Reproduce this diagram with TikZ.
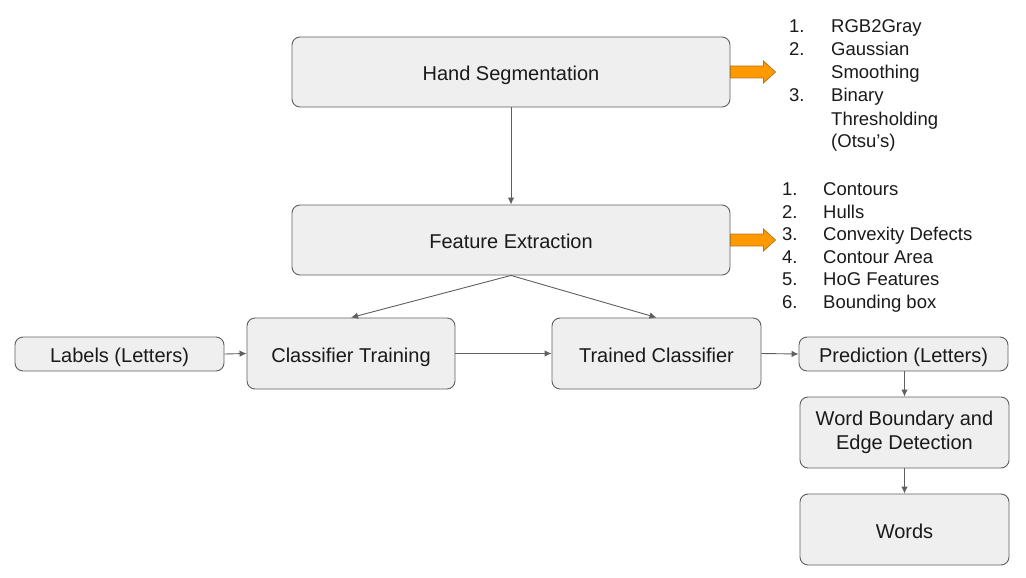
\documentclass[tikz,border=0pt]{standalone}
\usepackage{fontspec}
\setmainfont{Liberation Sans}
\usetikzlibrary{arrows.meta}
\begin{document}
\begin{tikzpicture}[x=1pt,y=-1pt,
  box/.style={draw=boxline, fill=boxfill, rounded corners=8pt, line width=0.9pt,
    inner sep=0pt, align=center, font=\fontsize{20}{24}\selectfont, text=txt},
  one/.style={text height=17pt, text depth=0pt},
  conn/.style={draw=arrowcol, line width=0.9pt, -{Latex[length=7pt,width=6.5pt]}},
  fat/.style={draw=orangeline, fill=orangefill, line width=0.8pt},
  item/.style={anchor=base west, inner sep=0pt, font=\fontsize{18.5}{22}\selectfont, text=txt}
]
\definecolor{boxfill}{HTML}{EFEFEF}
\definecolor{boxline}{HTML}{5F5F5F}
\definecolor{arrowcol}{HTML}{5F5F5F}
\definecolor{orangefill}{HTML}{FF9900}
\definecolor{orangeline}{HTML}{B07A28}
\definecolor{txt}{HTML}{1A1A1A}
\useasboundingbox (0,0) rectangle (1026,578);

\node[box, one, minimum width=438pt, minimum height=70pt] (hand) at (511,72) {Hand Segmentation};
\node[box, one, minimum width=438pt, minimum height=70pt] (feat) at (511,240) {Feature Extraction};
\node[box, one, minimum width=209pt, minimum height=34pt] (labels) at (119.5,354) {Labels (Letters)};
\node[box, one, minimum width=208pt, minimum height=71pt] (train) at (351,353.5) {Classifier Training};
\node[box, one, minimum width=209pt, minimum height=71pt] (trained) at (656.5,353.5) {Trained Classifier};
\node[box, one, minimum width=209pt, minimum height=34pt] (pred) at (903.5,354) {Prediction (Letters)};
\node[box, minimum width=209pt, minimum height=71pt] (wb) at (904.5,432.5) {Word Boundary and\\Edge Detection};
\node[box, one, minimum width=209pt, minimum height=71pt] (words) at (904.5,529.5) {Words};

% gray connectors
\draw[conn] (hand.south) -- (feat.north);
\draw[conn] (feat.south) -- (train.north);
\draw[conn] (feat.south) -- (trained.north);
\draw[conn] (labels.east) -- (train.west);
\draw[conn] (train.east) -- (trained.west);
\draw[conn] (trained.east) -- (pred.west);
\draw[conn] (pred.south -| wb.north) -- (wb.north);
\draw[conn] (wb.south) -- (words.north);

% orange block arrows
\coordinate (o1) at (hand.east);
\coordinate (o2) at (feat.east);
\foreach \c in {o1,o2}{
  \draw[fat] ([shift={(0,-6)}]\c) -- ++(33,0) -- ++(0,-5) -- ++(12,11) -- ++(-12,11) -- ++(0,-5) -- ++(-33,0) -- cycle;
}

% list 1
\node[item] (a1) at (789,33) {1.};
\node[item] (a1t) at (831,33) {RGB2Gray};
\node[item] (a2) at (789,56) {2.};
\node[item] (a2t) at (831,56) {Gaussian};
\node[item] (a2u) at (831,79) {Smoothing};
\node[item] (a3) at (789,102) {3.};
\node[item] (a3t) at (831,102) {Binary};
\node[item] (a3u) at (831,125) {Thresholding};
\node[item] (a3v) at (831,147) {(Otsu’s)};

% list 2
\node[item] (b1) at (782,195) {1.};
\node[item] (b1t) at (823,195) {Contours};
\node[item] (b2) at (782,218) {2.};
\node[item] (b2t) at (823,218) {Hulls};
\node[item] (b3) at (782,240) {3.};
\node[item] (b3t) at (823,240) {Convexity Defects};
\node[item] (b4) at (782,263) {4.};
\node[item] (b4t) at (823,263) {Contour Area};
\node[item] (b5) at (782,285) {5.};
\node[item] (b5t) at (823,285) {HoG Features};
\node[item] (b6) at (782,308) {6.};
\node[item] (b6t) at (823,308) {Bounding box};
\end{tikzpicture}
\end{document}
